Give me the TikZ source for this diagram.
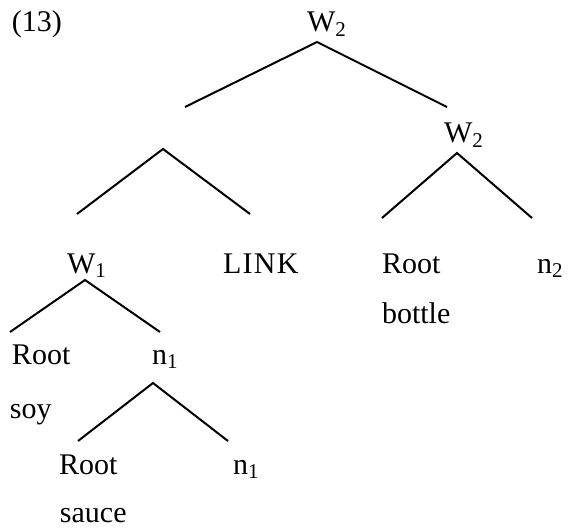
\documentclass[tikz,border=0pt]{standalone}
\usepackage{fontspec}
\setmainfont{Liberation Serif}
\begin{document}
\begin{tikzpicture}[x=0.75pt,y=-0.75pt,
  lbl/.style={anchor=base west,inner sep=0pt,outer sep=0pt,font=\fontsize{22.5pt}{27pt}\selectfont},
  branch/.style={line width=1.5pt,line cap=butt}]
\useasboundingbox (0,0) rectangle (568,531);
% labels
\node[lbl] (ex) at (12,32) {(13)};
\node[lbl] (wtop) at (307,32) {W\textsubscript{2}};
\node[lbl] (wtwo) at (444,143) {W\textsubscript{2}};
\node[lbl] (wone) at (67,273) {W\textsubscript{1}};
\node[lbl] (link) at (223,273) {L\kern1ptI\kern1ptN\kern1ptK};
\node[lbl] (rootb) at (382,273) {Root};
\node[lbl] (ntwo) at (537,273) {n\textsubscript{2}};
\node[lbl] (bottle) at (382,323) {bottle};
\node[lbl] (roots) at (12,364) {Root};
\node[lbl] (nonea) at (152,364) {n\textsubscript{1}};
\node[lbl] (soy) at (10,418) {soy};
\node[lbl] (rootc) at (59,474) {Root};
\node[lbl] (noneb) at (233,474) {n\textsubscript{1}};
\node[lbl] (sauce) at (60,522) {sauce};
% branch points
\coordinate (a1) at (317,42);  \coordinate (a1l) at (185,107); \coordinate (a1r) at (447,107);
\coordinate (a2) at (457,153); \coordinate (a2l) at (382,218); \coordinate (a2r) at (532,218);
\coordinate (a3) at (163,149); \coordinate (a3l) at (77,214);  \coordinate (a3r) at (250,214);
\coordinate (a4) at (85,280);  \coordinate (a4l) at (10,332);  \coordinate (a4r) at (160,332);
\coordinate (a5) at (153,383); \coordinate (a5l) at (78,441);  \coordinate (a5r) at (228,441);
\draw[branch] (a1l) -- (a1) -- (a1r);
\draw[branch] (a2l) -- (a2) -- (a2r);
\draw[branch] (a3l) -- (a3) -- (a3r);
\draw[branch] (a4l) -- (a4) -- (a4r);
\draw[branch] (a5l) -- (a5) -- (a5r);
\end{tikzpicture}
\end{document}
